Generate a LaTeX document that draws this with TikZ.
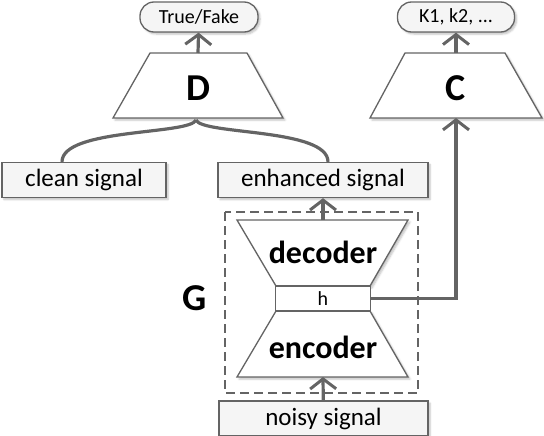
\documentclass[tikz,border=0pt]{standalone}
\usepackage{fontspec}
\setmainfont{Carlito}
\usetikzlibrary{arrows.meta, positioning, calc, shadows.blur}

\definecolor{linegray}{RGB}{100,100,100}
\tikzset{
	soft shadow/.style={blur shadow={shadow blur steps=5, shadow xshift=2pt, shadow yshift=-2pt, shadow opacity=25}},
	sigbox/.style={draw=linegray, line width=1.3pt, fill=black!4, inner sep=0pt, minimum height=35pt, soft shadow, font=\fontsize{25}{29}\selectfont},
	outbox/.style={sigbox, rounded corners=14pt, minimum height=30pt, font=\fontsize{20}{24}\selectfont},
	block/.style={draw=linegray, line width=1.3pt, fill=white, soft shadow},
	bigletter/.style={font=\fontsize{38}{42}\selectfont\bfseries},
	partname/.style={font=\fontsize{32}{36}\selectfont\bfseries},
	flow/.style={draw=linegray, line width=3.2pt, -{Straight Barb[length=10pt,width=26pt,line width=3pt]}},
	link/.style={draw=linegray, line width=3.2pt},
}

\begin{document}
\begin{tikzpicture}[x=1pt, y=-1pt]
	\useasboundingbox (0,0) rectangle (544,436);

	% outputs
	\node[outbox, minimum width=118pt] (fake) at (199,17) {True/Fake};
	\node[outbox, minimum width=117pt] (classes) at (456,17) {K1, k2, ...};

	% discriminator and classifier
	\draw[block] (113,118) -- (150,53) -- (247,53) -- (283,118) -- cycle;
	\node[bigletter] (D) at (198,88) {D};
	\coordinate (Dtop) at (198,53);
	\coordinate (Dbot) at (196,120);

	\draw[block] (370,118) -- (405,53) -- (505,53) -- (542,118) -- cycle;
	\node[bigletter] (C) at (456,88) {C};
	\coordinate (Ctop) at (456,53);
	\coordinate (Cbot) at (456,118);

	% signals
	\node[sigbox, minimum width=164pt] (clean) at (84,180) {clean signal};
	\node[sigbox, minimum width=210pt] (enhanced) at (323,180) {enhanced signal};
	\node[sigbox, minimum width=209pt] (noisy) at (323.5,418.5) {noisy signal};

	% generator
	\draw[linegray, line width=1.3pt, dash pattern=on 9pt off 5pt] (225,212) rectangle (418,393);
	\node[bigletter] (G) at (195,298) {G};
	\draw[block] (237,220) -- (408,220) -- (370,286) -- (276,286) -- cycle;
	\node[partname] (dec) at (323,252) {decoder};
	\draw[block] (276,311) -- (370,311) -- (408,377) -- (237,377) -- cycle;
	\node[partname] (enc) at (323,347) {encoder};
	\node[draw=linegray, line width=1.3pt, fill=white, inner sep=0pt, minimum width=95pt, minimum height=25pt, font=\fontsize{20}{24}\selectfont] (h) at (323,298.5) {h};
	\coordinate (dectop) at (323,220);
	\coordinate (encbot) at (323,377);

	% connectors
	\draw[flow] (Dtop) -- (fake);
	\draw[flow] (Ctop) -- (classes);
	\draw[flow] (dectop) -- (enhanced);
	\draw[flow] (noisy) -- (encbot);
	\draw[flow] (h.east) -| (Cbot);
	\draw[link] (Dbot) .. controls (190,135) and (62,128) .. ([xshift=-22pt]clean.north);
	\draw[link] (Dbot) .. controls (202,135) and (328,128) .. ([xshift=5pt]enhanced.north);
\end{tikzpicture}
\end{document}
